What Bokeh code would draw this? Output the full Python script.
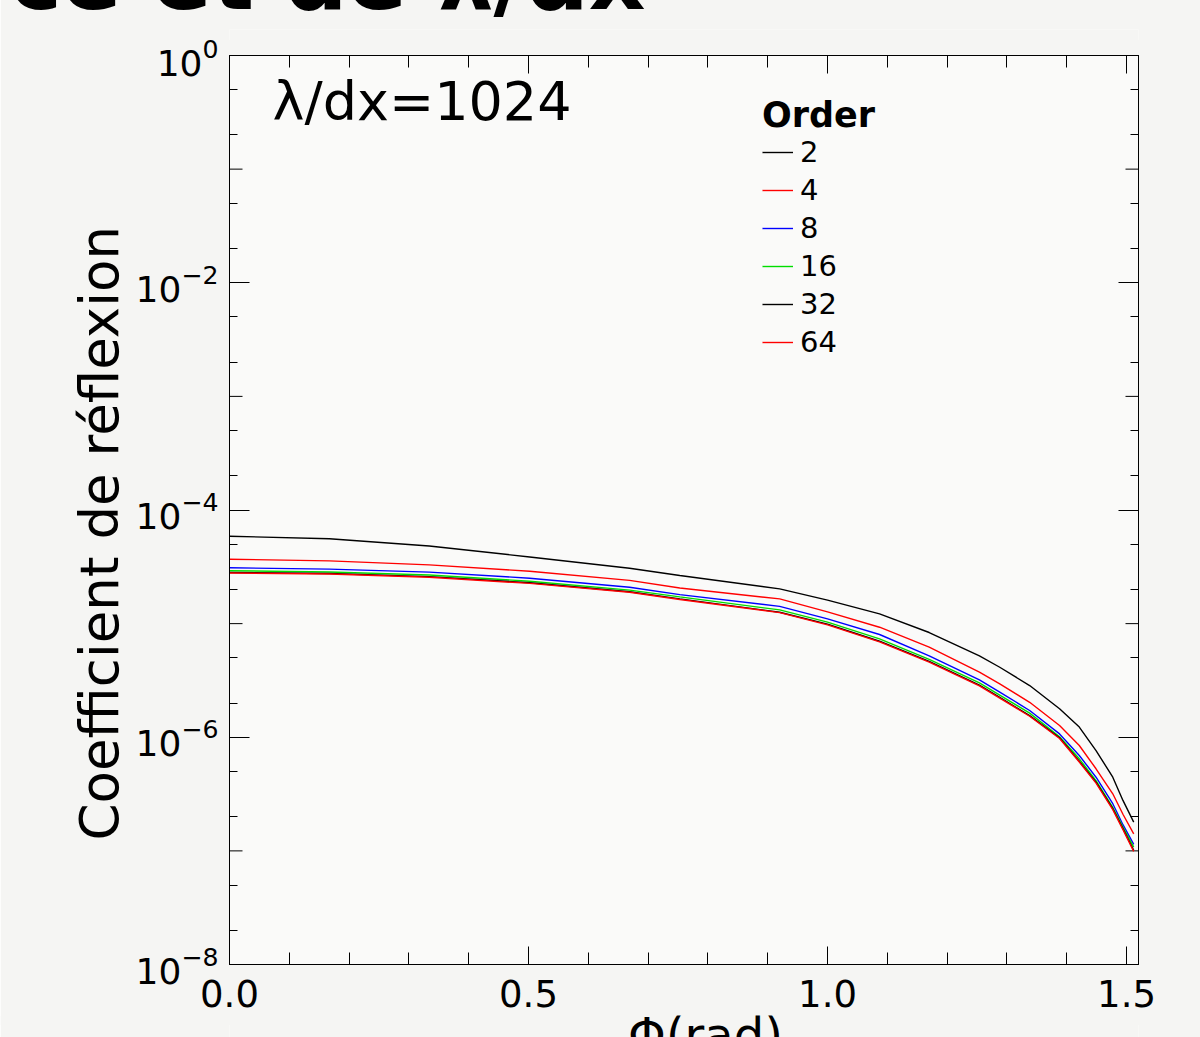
from bokeh.plotting import figure
from bokeh.layouts import column
from bokeh.models import (Range1d, FixedTicker, LinearAxis, LogAxis, Label, Legend,
                          LegendItem, CustomJSTickFormatter, Title)
from bokeh.embed import file_html
from bokeh.resources import INLINE

# ---------------- data ----------------
theta = [0.0, 0.167, 0.334, 0.502, 0.669, 0.753, 0.920, 1.000, 1.087, 1.170,
         1.254, 1.288, 1.338, 1.388, 1.421, 1.449, 1.477, 1.494, 1.512]
r_order2 = [5.88e-5, 5.58e-5, 4.82e-5, 3.86e-5, 3.07e-5, 2.65e-5, 2.02e-5, 1.61e-5, 1.22e-5, 8.35e-6,
            5.21e-6, 4.13e-6, 2.85e-6, 1.78e-6, 1.23e-6, 7.64e-7, 4.45e-7, 2.78e-7, 1.79e-7]
r_order4 = [3.69e-5, 3.57e-5, 3.29e-5, 2.89e-5, 2.40e-5, 2.06e-5, 1.65e-5, 1.27e-5, 9.30e-6, 6.2e-6,
            3.74e-6, 2.95e-6, 2.03e-6, 1.27e-6, 8.46e-7, 5.28e-7, 3.18e-7, 2.1e-7, 1.41e-7]
r_order8 = [3.10e-5, 3.02e-5, 2.84e-5, 2.51e-5, 2.09e-5, 1.80e-5, 1.42e-5, 1.10e-5, 8.02e-6, 5.2e-6,
            3.20e-6, 2.5e-6, 1.72e-6, 1.07e-6, 6.91e-7, 4.45e-7, 2.60e-7, 1.70e-7, 1.14e-7]
r_order16 = [2.92e-5, 2.85e-5, 2.68e-5, 2.36e-5, 1.97e-5, 1.72e-5, 1.32e-5, 1.03e-5, 7.35e-6, 4.85e-6,
             3.01e-6, 2.35e-6, 1.63e-6, 1.01e-6, 6.46e-7, 4.15e-7, 2.42e-7, 1.62e-7, 1.08e-7]
r_order32 = [2.82e-5, 2.76e-5, 2.59e-5, 2.29e-5, 1.91e-5, 1.65e-5, 1.26e-5, 9.9e-6, 7.00e-6, 4.65e-6,
             2.87e-6, 2.25e-6, 1.55e-6, 9.89e-7, 6.15e-7, 4.02e-7, 2.35e-7, 1.57e-7, 1.01e-7]
r_order64 = [2.79e-5, 2.73e-5, 2.56e-5, 2.26e-5, 1.89e-5, 1.63e-5, 1.25e-5, 9.75e-6, 6.9e-6, 4.58e-6,
             2.83e-6, 2.21e-6, 1.53e-6, 9.75e-7, 6.05e-7, 3.95e-7, 2.31e-7, 1.54e-7, 9.9e-8]

orders = ["2", "4", "8", "16", "32", "64"]
series = [r_order2, r_order4, r_order8, r_order16, r_order32, r_order64]
colors = ["#000000", "#ff0000", "#0000ff", "#00dd00", "#000000", "#ff0000"]

x_ticks = [0.0, 0.5, 1.0, 1.5]
x_tick_labels = ["0.0", "0.5", "1.0", "1.5"]
x_minor_ticks = [0.1, 0.2, 0.3, 0.4, 0.6, 0.7, 0.8, 0.9, 1.1, 1.2, 1.3, 1.4]
y_label_exponents = [0, -2, -4, -6, -8]
y_odd_decades = [1e-1, 1e-3, 1e-5, 1e-7]
y_minor_ticks = [m * 10.0 ** e for e in range(-8, 0) for m in (2, 5)]

title_text = "ce et de λ/dx"
annot_text = "λ/dx=1024"
y_title = "Coefficient de réflexion"
x_title = "Φ(rad)"
legend_title = "Order"

FONT = "DejaVu Sans"
OUTER = "#f5f5f3"
INNER = "#fafaf9"
X0, X1 = 0.0, 1.52
Y0, Y1 = 1e-8, 1.0

TOP_H, TOP_HIDDEN = 116, 76   # title strip; its upper part lies above the window
BOT_H, BOT_OVER = 22, 10      # x-title strip; overlaps the empty bottom of the plot
SEAM = 1                      # plot overlaps the title strip by one pixel

xr = Range1d(X0, X1)

# ---------------- main plot ----------------
p = figure(frame_width=909, frame_height=909,
           min_border_left=229, min_border_right=62,
           min_border_top=55 - (TOP_H - TOP_HIDDEN) + SEAM,
           min_border_bottom=1037 - 964 - (BOT_H - BOT_OVER),
           margin=(-SEAM, 0, 0, 0),
           x_range=xr, y_range=Range1d(Y0, Y1), y_axis_type="log",
           output_backend="svg", toolbar_location=None)
p.border_fill_color = OUTER
p.background_fill_color = INNER
p.outline_line_color = "black"
p.grid.visible = False

blank = CustomJSTickFormatter(code="return ''")
xt = FixedTicker(ticks=x_ticks, minor_ticks=x_minor_ticks)
yt = FixedTicker(ticks=[10.0 ** e for e in y_label_exponents], minor_ticks=y_minor_ticks)


def style(ax, major, minor):
    ax.axis_line_color = "black"
    ax.axis_line_width = 1
    ax.major_tick_in = major
    ax.major_tick_out = 0
    ax.minor_tick_in = minor
    ax.minor_tick_out = 0
    ax.major_tick_line_color = "black"
    ax.minor_tick_line_color = "black"


def hide_labels(ax):
    ax.formatter = blank
    ax.major_label_text_font_size = "0px"
    ax.major_label_standoff = 0


bx = p.xaxis[0]
bx.ticker = xt
bx.major_label_overrides = {t: s for t, s in zip(x_ticks, x_tick_labels)}
bx.major_label_text_font = FONT
bx.major_label_text_font_size = "37px"
bx.major_label_text_color = "black"
bx.major_label_standoff = 15
style(bx, 18, 12)

ly = p.yaxis[0]
ly.ticker = yt
ly.major_label_text_font = FONT
ly.major_label_text_font_size = "36px"
ly.major_label_text_color = "black"
ly.major_label_standoff = 11
style(ly, 20, 8)

ry = LogAxis(ticker=yt)
hide_labels(ry)
style(ry, 20, 8)
p.add_layout(ry, "right")
tx = LinearAxis(ticker=xt)
hide_labels(tx)
style(tx, 18, 12)
p.add_layout(tx, "above")

# medium-length ticks at the odd decades (half of each dash is clipped by the frame)
for xv in (X0, X1):
    p.scatter(x=[xv] * len(y_odd_decades), y=y_odd_decades, marker="dash", size=26,
              line_color="black", line_width=1)

renderers = []
for name, ys, c in zip(orders, series, colors):
    r = p.line(theta, ys, line_color=c, line_width=1.4)
    renderers.append((name, r))

legend = Legend(items=[LegendItem(label=n, renderers=[r]) for n, r in renderers],
                location=(533, 605), title=legend_title,
                title_text_font=FONT, title_text_font_size="35px", title_text_font_style="bold",
                title_text_color="black", title_standoff=0,
                label_text_font=FONT, label_text_font_size="29px", label_text_color="black",
                glyph_width=31, glyph_height=30, label_height=30, spacing=4,
                label_standoff=7, padding=0, margin=0,
                border_line_color=None, background_fill_alpha=0)
p.add_layout(legend)

p.add_layout(Label(x=X0, y=Y1, x_offset=43, y_offset=-46, text=annot_text,
                   text_align="left", text_baseline="middle",
                   text_font=FONT, text_font_size="54px", text_color="black"))

p.add_layout(Title(text=y_title, align="left", offset=124, standoff=5,
                   vertical_align="bottom", text_font=FONT, text_font_size="53px",
                   text_font_style="normal", text_color="black"), "left")


def strip(height, margin):
    f = figure(width=1200, height=height, x_range=xr, y_range=Range1d(height, 0),
               min_border=0, x_axis_location=None, y_axis_location=None, margin=margin,
               output_backend="svg", toolbar_location=None)
    f.border_fill_color = OUTER
    f.background_fill_color = OUTER
    f.outline_line_color = None
    f.grid.visible = False
    return f


# ---------------- top strip: page title, cut by the window edge ----------------
top = strip(TOP_H, (-TOP_HIDDEN, 0, 0, 0))
top.add_layout(Title(text=title_text, align="right", offset=493, standoff=0,
                     vertical_align="bottom", text_font=FONT, text_font_size="88px",
                     text_font_style="bold", text_color="black"), "above")

# ---------------- bottom strip: x-axis title, cut by the window edge ----------------
bot = strip(BOT_H, (-BOT_OVER, 0, 0, 0))
bot.add_layout(Label(x=0.796, y=BOT_H - 3, text=x_title, text_align="center",
                     text_baseline="middle", text_font=FONT, text_font_size="48px",
                     text_color="black"))

layout = column(top, p, bot, spacing=0)
open("out.html", "w").write(file_html(layout, INLINE))
